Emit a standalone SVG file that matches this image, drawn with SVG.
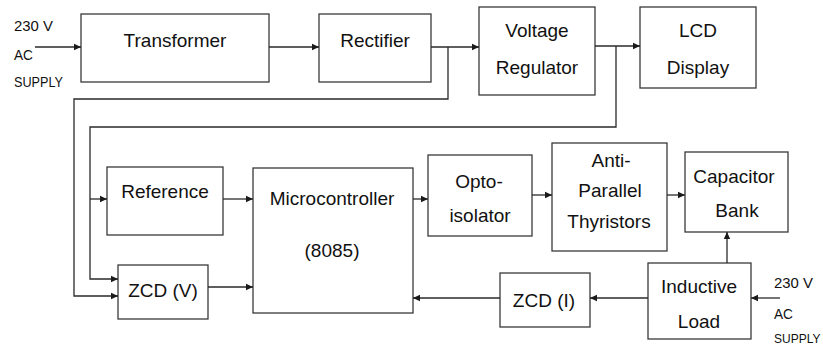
<svg xmlns="http://www.w3.org/2000/svg" width="823" height="348" viewBox="0 0 823 348">
<defs>
<marker id="ah" markerUnits="userSpaceOnUse" markerWidth="8" markerHeight="8" refX="7" refY="4" orient="auto">
<path d="M0,0.8 L7,4 L0,7.2 Z" fill="#1a1a1a"/>
</marker>
<style>
.box{fill:#fff;stroke:#3a3a3a;stroke-width:1.3}
.t{font-family:"Liberation Sans",Arial,sans-serif;font-size:19px;fill:#111;text-anchor:middle}
.s{font-family:"Liberation Sans",Arial,sans-serif;font-size:14px;fill:#111}
.c{fill:none;stroke:#2a2a2a;stroke-width:1.3;marker-end:url(#ah)}
</style>
</defs>
<rect width="823" height="348" fill="#fff"/>
<g id="supply-left">
<text class="s" x="14" y="31" textLength="39" lengthAdjust="spacingAndGlyphs">230 V</text>
<text class="s" x="14" y="60" textLength="19" lengthAdjust="spacingAndGlyphs">AC</text>
<text class="s" x="14" y="87" textLength="49" lengthAdjust="spacingAndGlyphs">SUPPLY</text>
</g>
<g id="supply-right">
<text class="s" x="774" y="288" textLength="39" lengthAdjust="spacingAndGlyphs">230 V</text>
<text class="s" x="774" y="319" textLength="19" lengthAdjust="spacingAndGlyphs">AC</text>
<text class="s" x="774" y="343" style="font-size:12px">SUPPLY</text>
</g>
<g id="transformer"><rect class="box" x="81" y="14" width="188" height="68"/><text class="t" x="175" y="47">Transformer</text></g>
<g id="rectifier"><rect class="box" x="319" y="14" width="112" height="68"/><text class="t" x="375" y="47">Rectifier</text></g>
<g id="voltage-regulator"><rect class="box" x="479" y="7" width="116" height="88"/><text class="t" x="537" y="37">Voltage</text><text class="t" x="537" y="74">Regulator</text></g>
<g id="lcd"><rect class="box" x="640" y="7" width="116" height="81"/><text class="t" x="698" y="37">LCD</text><text class="t" x="698" y="74">Display</text></g>
<g id="reference"><rect class="box" x="107" y="167" width="116" height="68"/><text class="t" x="165" y="198">Reference</text></g>
<g id="zcd-v"><rect class="box" x="118" y="265" width="90" height="54"/><text class="t" x="163" y="297">ZCD (V)</text></g>
<g id="microcontroller"><rect class="box" x="253" y="168" width="160" height="145"/><text class="t" x="332" y="205">Microcontroller</text><text class="t" x="332" y="257">(8085)</text></g>
<g id="opto-isolator"><rect class="box" x="428" y="155" width="104" height="81"/><text class="t" x="479" y="188">Opto-</text><text class="t" x="480" y="222">isolator</text></g>
<g id="thyristors"><rect class="box" x="552" y="143" width="115" height="108"/><text class="t" x="611" y="167">Anti-</text><text class="t" x="610" y="197">Parallel</text><text class="t" x="609" y="228">Thyristors</text></g>
<g id="capacitor-bank"><rect class="box" x="685" y="152" width="103" height="80"/><text class="t" x="734" y="183">Capacitor</text><text class="t" x="737" y="217">Bank</text></g>
<g id="inductive-load"><rect class="box" x="648" y="263" width="103" height="76"/><text class="t" x="699" y="293">Inductive</text><text class="t" x="699" y="328">Load</text></g>
<g id="zcd-i"><rect class="box" x="500" y="273" width="90" height="54"/><text class="t" x="544" y="307">ZCD (I)</text></g>
<g id="connectors">
<path class="c" d="M35,47 H81"/>
<path class="c" d="M269,47 H319"/>
<path class="c" d="M431,47 H479"/>
<path class="c" d="M595,46 H640"/>
<path class="c" d="M448,47 V99 H74 V296 H118"/>
<path class="c" d="M616,46 V127 H90 V279 H118"/>
<path class="c" d="M90,199 H107"/>
<path class="c" d="M223,199 H253"/>
<path class="c" d="M208,287 H253"/>
<path class="c" d="M413,199 H428"/>
<path class="c" d="M532,195 H552"/>
<path class="c" d="M667,195 H685"/>
<path class="c" d="M727,263 V232"/>
<path class="c" d="M648,298 H590"/>
<path class="c" d="M500,298 H413"/>
<path class="c" d="M780,298 H751"/>
</g>
</svg>
